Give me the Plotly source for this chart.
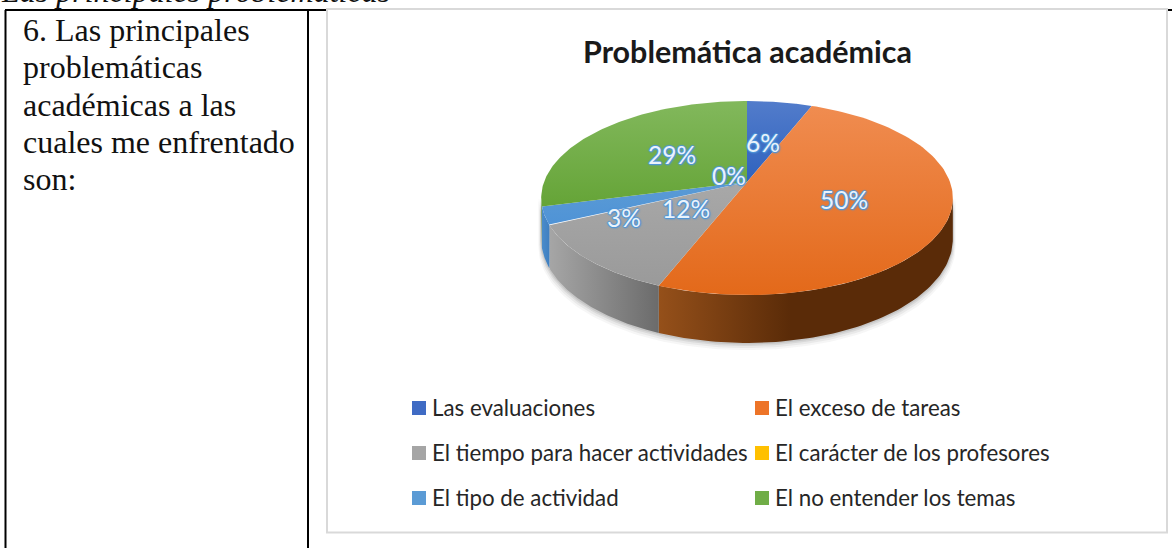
import numpy as np
import plotly.graph_objects as go

# ---- data ----
categories = ["Las evaluaciones", "El exceso de tareas", "El tiempo para hacer actividades",
              "El carácter de los profesores", "El tipo de actividad", "El no entender los temas"]
percent = [6, 50, 12, 0, 3, 29]
chart_title = "Problemática académica"
caption = "Las principales problemáticas"
question_lines = ["6. Las principales", "problemáticas", "académicas a las",
                  "cuales me enfrentado", "son:"]

# ---- styles ----
swatch = ["#3F6BC4", "#ED7428", "#A5A5A5", "#FFC000", "#5B9BD5", "#70AD47"]
face_top = ["#527CCB", "#F08C50", "#A8A8A8", "#FFC000", "#5B9BD5", "#82B85C"]
face_bot = ["#2F62BE", "#E3691A", "#9A9A9A", "#FFC000", "#4F93D6", "#65A437"]
wall_left = ["#2F5597", "#95501A", "#A6A6A6", "#BF9000", "#4A8CCB", "#4E7F2F"]
wall_right = ["#2F5597", "#5A2B08", "#6B6B6B", "#BF9000", "#3F7FC0", "#4E7F2F"]
label_r = [0.46, 0.50, 0.42, 0.10, 0.62, 0.49]
label_yshift = [0, 0, 4, 11, -15, 0]

# projection of the tilted disc on the page
CX, CY, A, B, K, DEPTH = 747, 182, 203, 94.4, 0.165, 40


def project(theta_deg, r=1.0, drop=False):
    t = np.radians(theta_deg)
    u, v = r * np.sin(t), r * np.cos(t)
    den = 1 + K * v
    x = CX + A * u / den
    y = CY - B * v / den
    if drop:
        y = y + DEPTH / den
    return x, y


fracs = np.array(percent) / sum(percent) * 360
ends = np.cumsum(fracs)
starts = ends - fracs
t_right = np.degrees(np.arccos(-K))
t_left = 360 - t_right

fig = go.Figure()

# soft shadow beneath the pie
front = np.linspace(t_right, t_left, 120)
for grow, alpha in [(7, 0.05), (5, 0.07), (3, 0.10), (1.5, 0.12)]:
    xs, ys = project(front, drop=True)
    x0, y0 = project(front)
    sx = np.r_[x0 + np.sign(x0 - CX) * grow * 0.4, (xs + np.sign(xs - CX) * grow * 0.4)[::-1]]
    sy = np.r_[y0, (ys + grow)[::-1]]
    fig.add_trace(go.Scatter(x=sx, y=sy, mode="lines", fill="toself", fillcolor=f"rgba(70,70,70,{alpha})",
                             line=dict(width=0), hoverinfo="skip", showlegend=False))

# side walls
for i in range(len(percent)):
    a, b = max(starts[i], t_right), min(ends[i], t_left)
    if b <= a:
        continue
    th = np.linspace(a, b, 80)
    xt, yt = project(th)
    xb, yb = project(th, drop=True)
    scale = [[0, wall_left[i]], [1, wall_right[i]]]
    if i == 1:
        scale = [[0, wall_left[i]], [0.45, wall_right[i]], [1, wall_right[i]]]
    fig.add_trace(go.Scatter(x=np.r_[xt, xb[::-1]], y=np.r_[yt, yb[::-1]], mode="lines", fill="toself",
                             fillgradient=dict(type="horizontal", colorscale=scale),
                             line=dict(width=0), hoverinfo="skip", showlegend=False))

# top faces
for i in range(len(percent)):
    if percent[i] == 0:
        continue
    th = np.linspace(starts[i], ends[i], 120)
    xr, yr = project(th)
    ax, ay = project(0, r=0)
    fig.add_trace(go.Scatter(x=np.r_[ax, xr, ax], y=np.r_[ay, yr, ay], mode="lines", fill="toself",
                             fillgradient=dict(type="vertical", colorscale=[[0, face_bot[i]], [1, face_top[i]]]),
                             line=dict(width=0), hoverinfo="skip", showlegend=False))

# legend swatches
leg_x = [419, 762]
leg_y = [408, 453, 498]
sx = [leg_x[i % 2] for i in range(6)]
sy = [leg_y[i // 2] for i in range(6)]
fig.add_trace(go.Scatter(x=sx, y=sy, mode="markers", hoverinfo="skip", showlegend=False,
                         marker=dict(symbol="square", size=14, color=swatch, line=dict(width=0))))

annotations = []
# percent labels
glow = "1px 0 1px #4F95D8, -1px 0 1px #4F95D8, 0 1px 1px #4F95D8, 0 -1px 1px #4F95D8, 1px 1px 2px #4F95D8"
for i, p in enumerate(percent):
    mid = starts[i] + fracs[i] / 2
    lx, ly = project(mid, r=label_r[i])
    annotations.append(dict(x=lx, y=ly, xref="x", yref="y", text=f"{p}%", showarrow=False, yshift=label_yshift[i],
                            font=dict(family="Lato", size=24.5, color="#EAF3FB", shadow=glow)))
# legend labels
for i, c in enumerate(categories):
    annotations.append(dict(x=sx[i] + 11, y=sy[i] - 1, xref="x", yref="y", text=c, showarrow=False, xanchor="left",
                            font=dict(family="Lato", size=22.3, color="#262626")))
# title
annotations.append(dict(x=747, y=51, xref="x", yref="y", text=f"<b>{chart_title}</b>", showarrow=False,
                        font=dict(family="Lato", size=30.5, color="#1A1A1A")))
# table text
for j, line in enumerate(question_lines):
    annotations.append(dict(x=21, y=30 + 37.3 * j, xref="x", yref="y", text=line, showarrow=False, xanchor="left",
                            font=dict(family="Liberation Serif", size=32, color="#111111")))
annotations.append(dict(x=0, y=10, xref="x", yref="y", text=f"<i>{caption}</i>", showarrow=False,
                        xanchor="left", yanchor="bottom", borderpad=0,
                        font=dict(family="Liberation Serif", size=32, color="#111111")))

blk = dict(color="#000000", width=2)
grey = dict(color="#D9D9D9", width=2)
shapes = [
    dict(type="line", x0=5, x1=326, y0=10, y1=10, line=blk),
    dict(type="line", x0=5.5, x1=5.5, y0=10, y1=548, line=blk),
    dict(type="line", x0=308, x1=308, y0=10, y1=548, line=blk),
    dict(type="line", x0=1168, x1=1172, y0=10, y1=10, line=blk),
    dict(type="rect", x0=327, x1=1167, y0=9, y1=532.5, line=grey, fillcolor="rgba(0,0,0,0)", layer="below"),
]

fig.update_layout(
    width=1172, height=548, autosize=False, margin=dict(l=0, r=0, t=0, b=0),
    paper_bgcolor="#FFFFFF", plot_bgcolor="#FFFFFF", showlegend=False,
    xaxis=dict(range=[0, 1172], visible=False, fixedrange=True),
    yaxis=dict(range=[548, 0], visible=False, fixedrange=True),
    annotations=annotations, shapes=shapes,
)
fig.write_html("out.html", config={"displayModeBar": False},
               post_script="document.body.style.margin='0';document.documentElement.style.overflow='hidden';")
